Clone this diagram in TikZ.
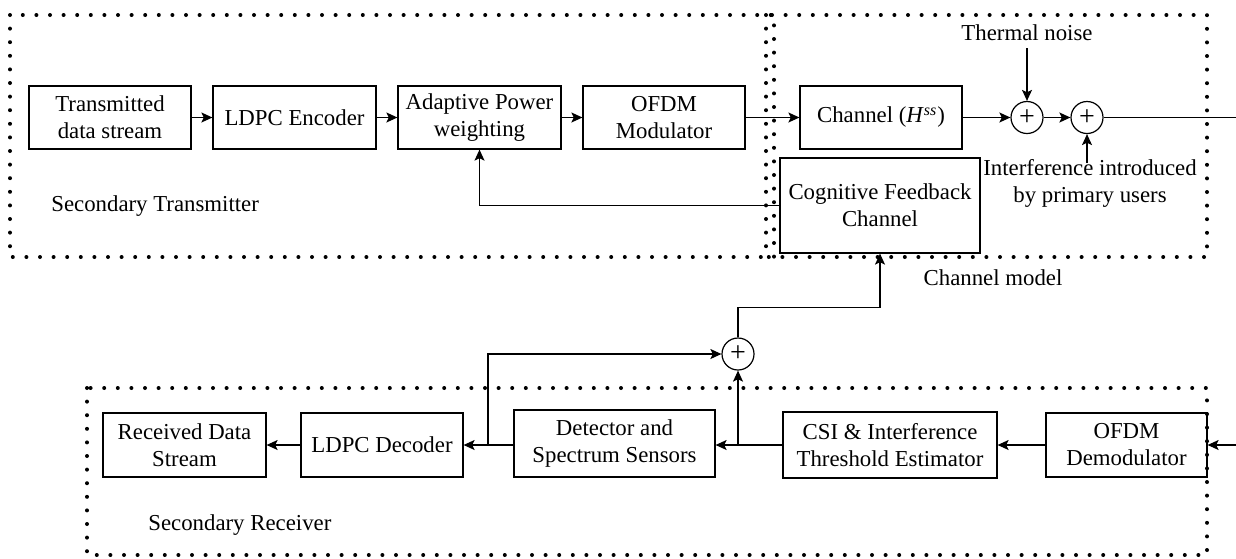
\documentclass[tikz,border=0pt]{standalone}
\usepackage{fontspec}
\setmainfont{Liberation Serif}
\usetikzlibrary{arrows.meta}
\begin{document}
\begin{tikzpicture}[x=0.5pt,y=-0.5pt,
  every node/.style={font=\fontsize{11.4pt}{13.5pt}\selectfont},
  blk/.style={draw,line width=0.6pt,inner sep=0pt,align=center},
  sumnode/.style={draw,circle,line width=0.6pt,inner sep=0pt,minimum size=16pt,font=\fontsize{14pt}{14pt}\selectfont},
  arr/.style={line width=0.6pt,-{Stealth[length=5.5pt,width=5pt,inset=1.2pt]}},
  ln/.style={line width=0.6pt},
  dotbox/.style={line width=2pt,line cap=round,dash pattern=on 0pt off 6.8pt}]
\useasboundingbox (0,0) rectangle (1236,558);
% dotted groups
\draw[dotbox] (10,15) rectangle (774,257);
\draw[dotbox] (766,15) rectangle (1207,257);
\draw[dotbox] (87,388) rectangle (1207,555);
% transmitter blocks
\node[blk,minimum width=81pt,minimum height=31.5pt] (tds) at (110,117.5) {Transmitted\\data stream};
\node[blk,minimum width=81.5pt,minimum height=31.5pt] (enc) at (294.5,117.5) {LDPC Encoder};
\node[blk,minimum width=81.5pt,minimum height=31.5pt] (apw) at (479.5,117.5) {Adaptive Power\\weighting};
\node[blk,minimum width=81pt,minimum height=31.5pt] (mod) at (664,117.5) {OFDM\\Modulator};
\node[blk,minimum width=81pt,minimum height=31.5pt] (chan) at (881,117.5) {Channel (\textit{H}\textsuperscript{\textit{ss}})};
\node[blk,minimum width=100pt,minimum height=47.5pt] (cfc) at (880,205.5) {Cognitive Feedback\\Channel};
\node[sumnode] (s1) at (1027,117.5) {+};
\node[sumnode] (s2) at (1087,117.5) {+};
\node[inner sep=3.5pt,anchor=south] (thermal) at (1027,48) {Thermal noise};
\node[inner sep=0pt,align=center] (interf) at (1090,183) {Interference introduced\\by primary users};
\coordinate (ib) at (1087,163);
\coordinate (out1) at (1236,117.5);
\node[inner sep=0pt,anchor=west] (stx) at (51,206) {Secondary Transmitter};
\node[inner sep=0pt] (cm) at (993,278) {Channel model};
% transmitter connectors
\draw[arr] (tds) -- (enc);
\draw[arr] (enc) -- (apw);
\draw[arr] (apw) -- (mod);
\draw[arr] (mod) -- (chan);
\draw[arr] (chan) -- (s1);
\draw[arr] (s1) -- (s2);
\draw[ln] (s2) -- (out1);
\draw[arr] (thermal.south) -- (s1.north);
\draw[arr] (ib) -- (s2.south);
\draw[arr] (cfc.west) -| (apw.south);
% receiver blocks
\node[blk,minimum width=81.5pt,minimum height=32pt] (rds) at (184.5,445) {Received Data\\Stream};
\node[blk,minimum width=81pt,minimum height=32pt] (dec) at (382,445) {LDPC Decoder};
\node[blk,minimum width=100.5pt,minimum height=33.5pt] (det) at (614.5,443.5) {Detector and\\Spectrum Sensors};
\node[blk,minimum width=107pt,minimum height=33pt] (csi) at (890,445) {CSI \& Interference\\Threshold Estimator};
\node[blk,minimum width=80.5pt,minimum height=32pt] (dem) at (1126.5,445) {OFDM\\Demodulator};
\node[sumnode] (s3) at (738,354) {+};
\coordinate (in2) at (1236,445);
\coordinate (j1) at (738,445);
\coordinate (j2) at (488,445);
\node[inner sep=0pt,anchor=west] (srx) at (148,525) {Secondary Receiver};
% receiver connectors
\draw[arr] (in2) -- (dem.east);
\draw[arr] (dem.west) -- (csi.east);
\draw[arr] (csi.west) -- (csi.west -| det.east);
\draw[arr] (j1) -- (s3.south);
\draw[arr] (det.west |- j2) -- (dec.east);
\draw[arr] (j2) |- (s3.west);
\draw[arr] (dec.west) -- (rds.east);
\draw[arr] (s3.north) -- ++(0,-30) -| (cfc.south);
\end{tikzpicture}
\end{document}
